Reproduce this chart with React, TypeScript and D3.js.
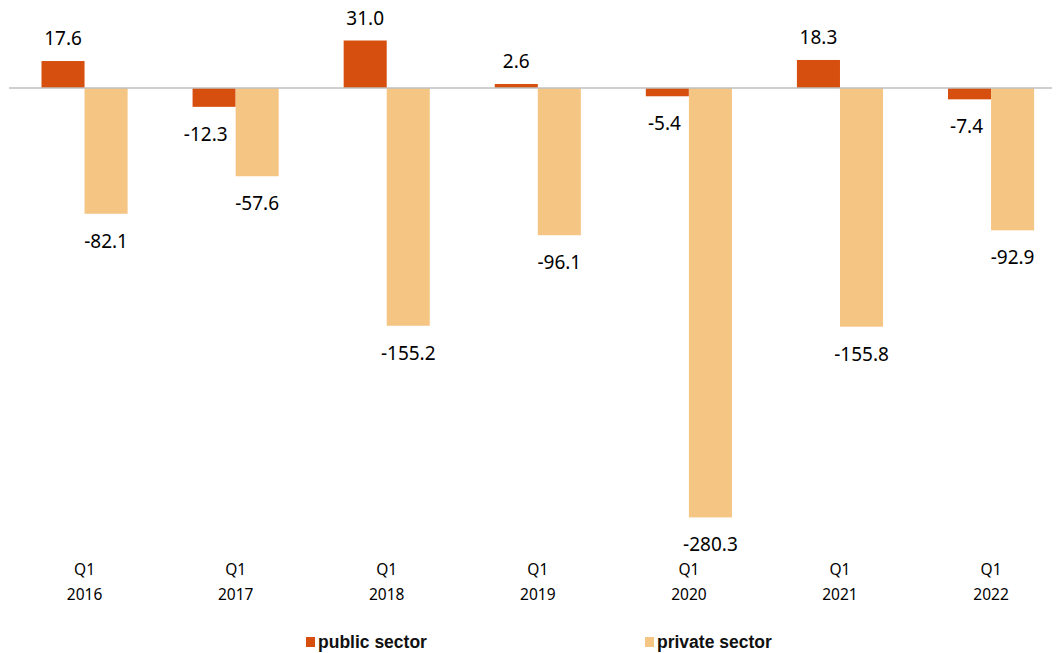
import React, { useRef, useEffect } from "react";
import * as d3 from "d3";

// Balance by sector, Q1 of each year
const years = ["2016", "2017", "2018", "2019", "2020", "2021", "2022"];
const quarterLabel = "Q1";
const publicSector = [17.6, -12.3, 31.0, 2.6, -5.4, 18.3, -7.4];
const privateSector = [-82.1, -57.6, -155.2, -96.1, -280.3, -155.8, -92.9];
const seriesNames = ["public sector", "private sector"];
const seriesColors = ["#D74F0F", "#F5C584"];

const App = ({ width = 1056, height = 653 }) => {
  const d3Container = useRef<SVGSVGElement>(null);

  useEffect(() => {
    const container = d3Container.current;
    if (!container) return;
    d3.select(container).selectChildren().remove();

    const svg = d3.select(container).append("g");
    const font = "'Noto Sans', 'Open Sans', sans-serif";

    // X: one band per year
    const x = d3.scaleBand().domain(years).range([9, 1066.6]).padding(0);
    const barW = x.bandwidth() * 0.285;

    // Y
    const y = d3.scaleLinear().domain([-300, 50]).range([547.6, 11.4]);

    const series = [publicSector, privateSector];

    series.forEach((values, si) => {
      const g = svg.append("g").attr("class", `series-${si}`);
      const xPos = (d: string) =>
        (x(d) as number) + x.bandwidth() / 2 + (si === 0 ? -barW : 0);

      g.selectAll("rect")
        .data(values)
        .enter()
        .append("rect")
        .attr("x", (_, i) => xPos(years[i]))
        .attr("y", (d) => y(Math.max(0, d)))
        .attr("width", barW)
        .attr("height", (d) => Math.abs(y(d) - y(0)))
        .attr("fill", seriesColors[si]);

      // Etiquetas de valor; las negativas del sector público se apartan
      // a la izquierda para no pisar la barra contigua
      const shiftLeft = (d: number) => si === 0 && d < 0;
      g.selectAll("text")
        .data(values)
        .enter()
        .append("text")
        .attr("x", (d, i) =>
          shiftLeft(d) ? xPos(years[i]) + barW - 8 : xPos(years[i]) + barW / 2
        )
        .attr("y", (d) => (d >= 0 ? y(d) - 16 : y(d) + 34))
        .attr("text-anchor", (d) => (shiftLeft(d) ? "end" : "middle"))
        .style("font-family", font)
        .style("font-size", "19px")
        .attr("fill", "#000")
        .text((d) => d.toFixed(1));
    });

    // Línea base
    svg
      .append("line")
      .attr("x1", 9)
      .attr("x2", 1052)
      .attr("y1", y(0))
      .attr("y2", y(0))
      .attr("stroke", "#BFBFBF")
      .attr("stroke-width", 1.5);

    // Category labels
    const cat = svg
      .selectAll("g.cat")
      .data(years)
      .enter()
      .append("g")
      .attr("class", "cat")
      .attr("transform", (d) => `translate(${(x(d) as number) + x.bandwidth() / 2}, 0)`)
      .style("font-family", font)
      .style("font-size", "15.5px")
      .attr("text-anchor", "middle");
    cat.append("text").attr("y", 575).text(quarterLabel);
    cat.append("text").attr("y", 600).text((d) => d);

    // Legend
    const legendX = [306, 645];
    const legend = svg
      .selectAll("g.legend")
      .data(seriesNames)
      .enter()
      .append("g")
      .attr("class", "legend")
      .attr("transform", (_, i) => `translate(${legendX[i]}, 0)`);
    legend
      .append("rect")
      .attr("x", 0)
      .attr("y", 637)
      .attr("width", 9)
      .attr("height", 10)
      .attr("fill", (_, i) => seriesColors[i]);
    legend
      .append("text")
      .attr("x", 12)
      .attr("y", 647.5)
      .style("font-family", "'Liberation Sans', Arial, sans-serif")
      .style("font-size", "17.5px")
      .style("font-weight", "bold")
      .attr("fill", "#111")
      .text((d) => d);
  }, [width, height]);

  return (
    <svg
      ref={d3Container}
      width={width}
      height={height}
      style={{ position: "absolute", left: 0, top: 0, background: "#fff" }}
    />
  );
};

export default App;
